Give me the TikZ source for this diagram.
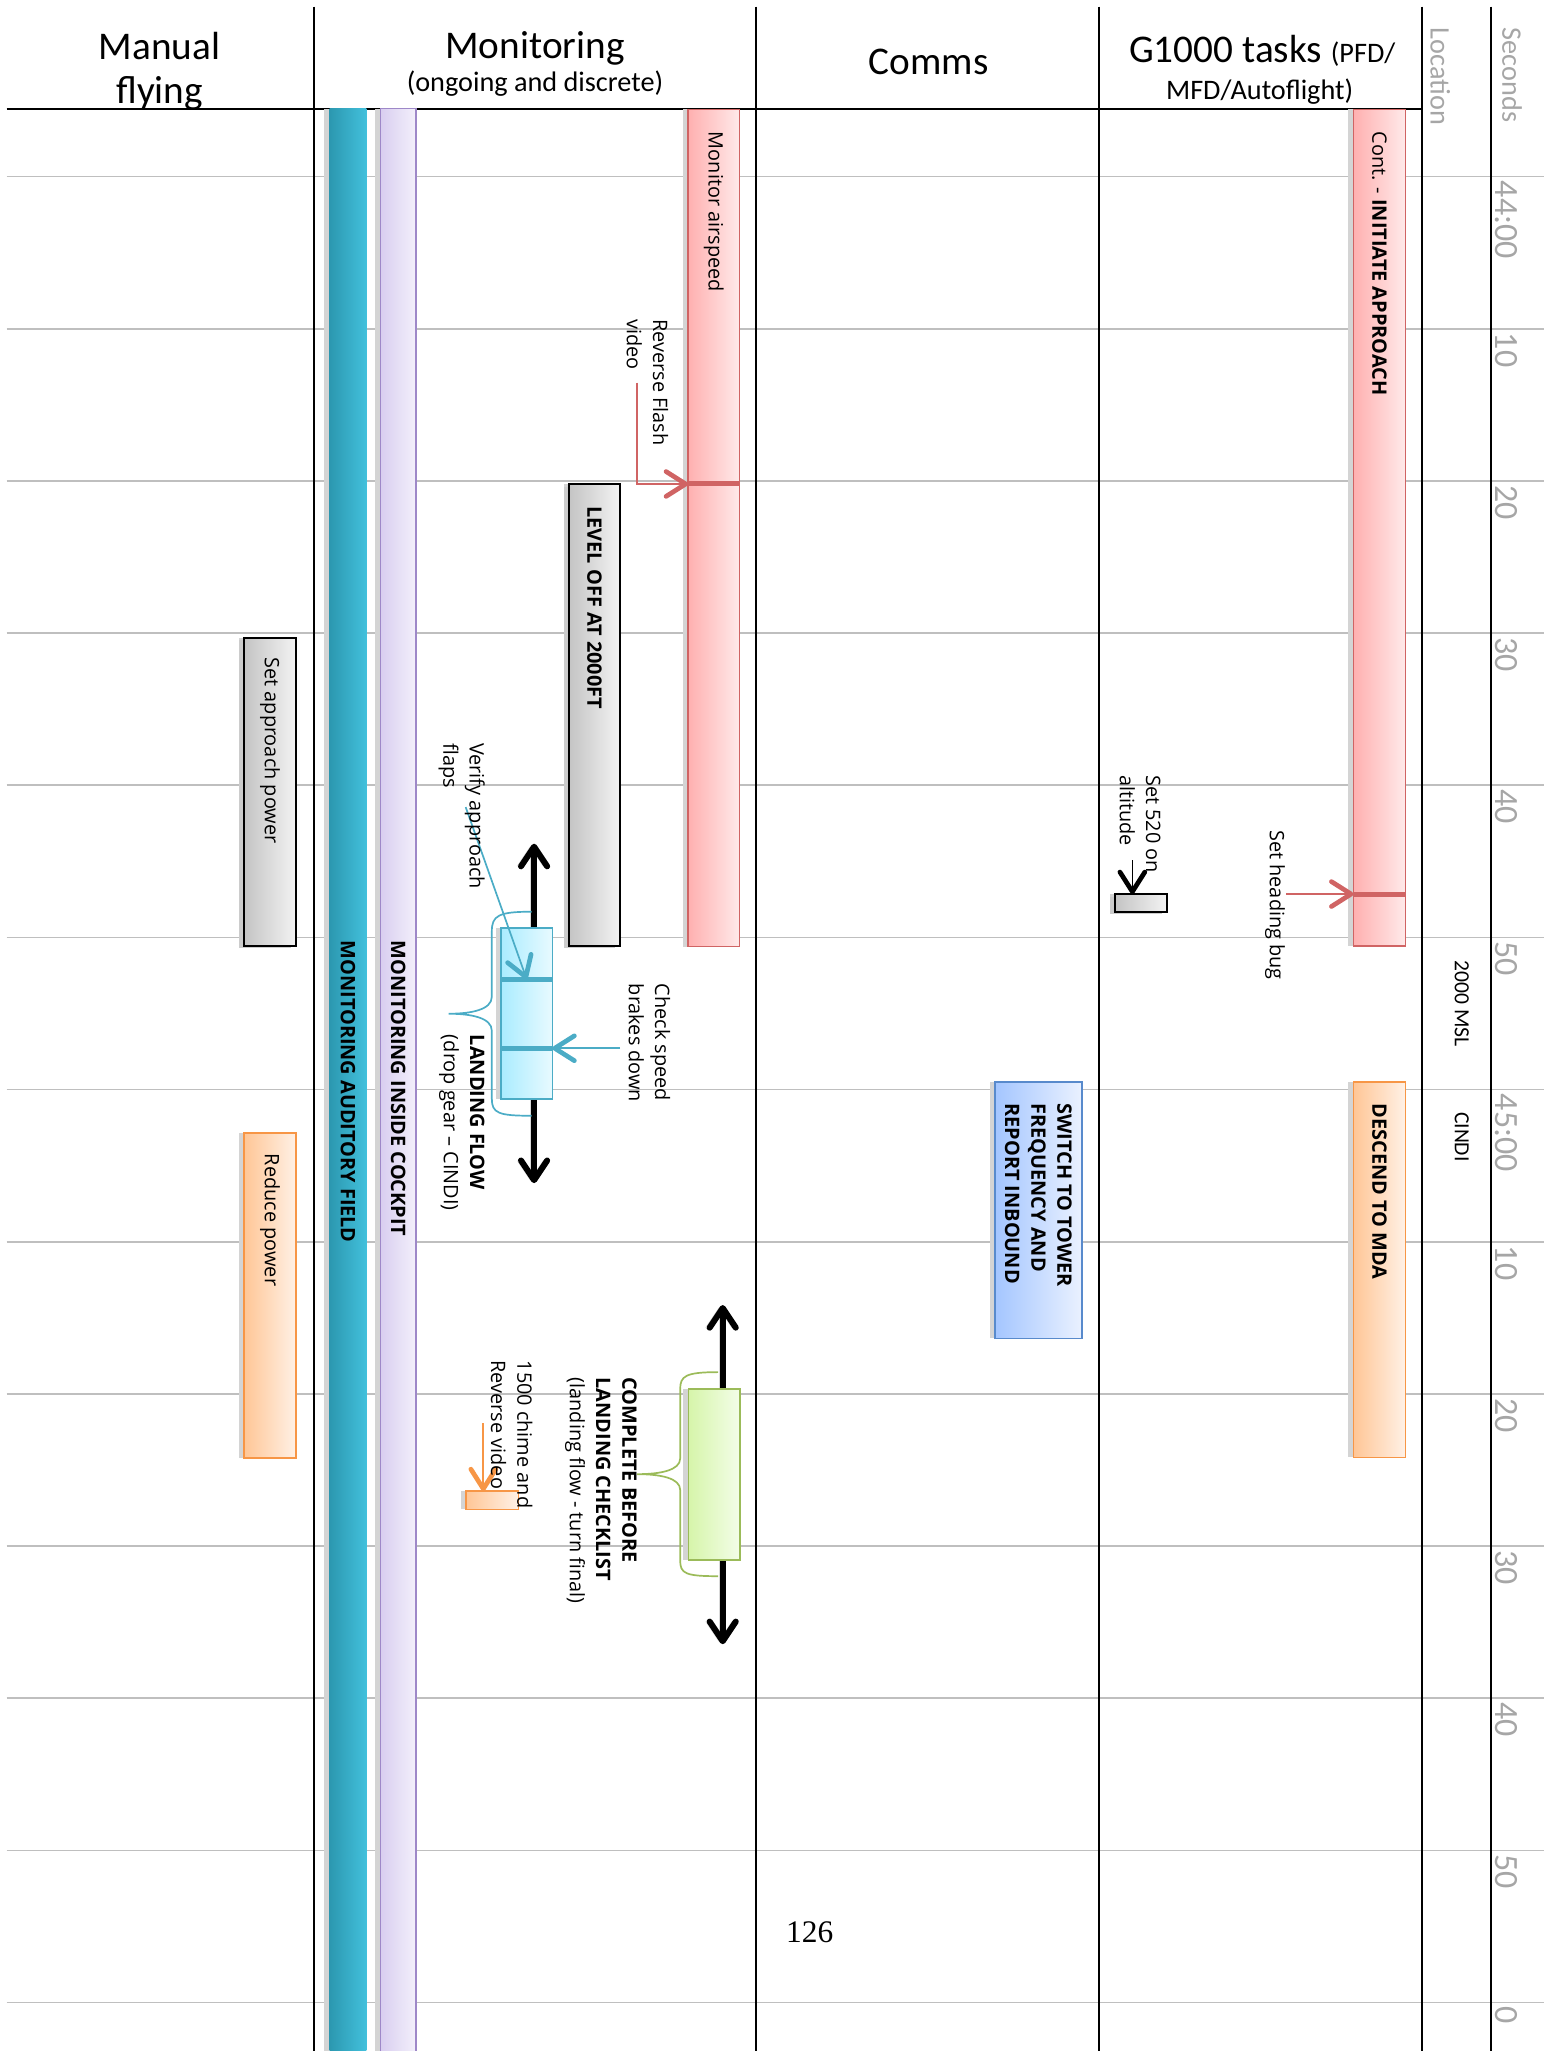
\documentclass[tikz,border=0pt]{standalone}
\usepackage{fontspec}
\setmainfont{Open Sans}
\newfontfamily\calfont{Carlito}
\newfontfamily\pagefont{Liberation Serif}
\usetikzlibrary{positioning}
\usetikzlibrary{shadows,arrows.meta}
\definecolor{gridgry}{RGB}{191,191,191}
\definecolor{secgry}{RGB}{166,166,166}
\definecolor{tealdk}{RGB}{44,152,176}
\definecolor{teallt}{RGB}{66,192,220}
\definecolor{lavdk}{RGB}{217,206,240}
\definecolor{lavlt}{RGB}{243,240,251}
\definecolor{lavbrd}{RGB}{158,136,200}
\definecolor{reddk}{RGB}{255,176,176}
\definecolor{redlt}{RGB}{255,234,234}
\definecolor{redbrd}{RGB}{208,100,100}
\definecolor{grydk}{RGB}{196,196,196}
\definecolor{grylt}{RGB}{243,243,243}
\definecolor{cyandk}{RGB}{170,236,255}
\definecolor{cyanlt}{RGB}{232,250,255}
\definecolor{cyanbrd}{RGB}{75,172,198}
\definecolor{grndk}{RGB}{214,245,170}
\definecolor{grnlt}{RGB}{243,253,232}
\definecolor{grnbrd}{RGB}{155,187,89}
\definecolor{orgdk}{RGB}{255,198,150}
\definecolor{orglt}{RGB}{255,241,230}
\definecolor{orgbrd}{RGB}{247,150,70}
\definecolor{bludk}{RGB}{164,198,255}
\definecolor{blult}{RGB}{234,241,255}
\definecolor{blubrd}{RGB}{88,138,204}

\tikzset{
  lane/.style={line width=1.6pt, black},
  gridln/.style={line width=1.3pt, gridgry},
  hdr/.style={inner sep=0pt, font=\calfont\fontsize{30}{34}\selectfont},
  subhdr/.style={inner sep=0pt, font=\calfont\fontsize{21.6}{24}\selectfont},
  sidehdr/.style={rotate=-90, anchor=west, inner sep=0pt, text=secgry, font=\calfont\fontsize{21.6}{24}\selectfont},
  sec/.style={rotate=-90, anchor=west, inner sep=0pt, text=secgry, font=\calfont\fontsize{26}{30}\selectfont},
  txt/.style={rotate=-90, anchor=west, inner sep=0pt, align=left, font=\fontsize{15.2}{20}\selectfont},
  locn/.style={txt, font=\calfont\fontsize{16.5}{20}\selectfont},
  box/.style={anchor=north west, inner sep=0pt, outer sep=0pt, line width=1.2pt,
    drop shadow={shadow xshift=-4pt, shadow yshift=0pt, opacity=1, fill=black!17}},
  graybox/.style={box, draw=black, line width=1.6pt, left color=grydk, right color=grylt,
    drop shadow={shadow xshift=-4pt, shadow yshift=-2pt, opacity=1, fill=black!20}},
  redbox/.style={box, draw=redbrd, left color=reddk, right color=redlt},
  orgbox/.style={box, draw=orgbrd, left color=orgdk, right color=orglt},
  cyanbox/.style={box, draw=cyanbrd, left color=cyandk, right color=cyanlt},
  grnbox/.style={box, draw=grnbrd, left color=grndk, right color=grnlt},
  blubox/.style={box, draw=blubrd, left color=bludk, right color=blult},
  tickln/.style={line width=3.8pt},
  bracln/.style={line width=1.3pt},
  ptr/.style={->, line width=1.3pt, >={Straight Barb[length=15pt, width=19pt, line width=3.6pt, round]}},
  dblarrow/.style={<->, line width=4.6pt, black,
    >={Straight Barb[length=15pt, width=20pt, line width=4.6pt, round]},
    preaction={draw=black!15, transform canvas={xshift=-3pt}}}
}

\begin{document}
\begin{tikzpicture}[x=1pt, y=-1pt]
  \useasboundingbox (0,0) rectangle (1189,1568);

  % time grid
  \foreach \lbl [count=\k from 0] in {44:00,10,20,30,40,50,45:00,10,20,30,40,50,0}{
    \draw[gridln] (5,{135+116.33*\k}) -- (1180,{135+116.33*\k});
    \node[sec] (s\k) at (1152,{138+116.33*\k}) {\lbl};
  }

  % lanes
  \foreach \x in {240,578,840,1087,1140}
    \draw[lane] (\x,5) -- (\x,1568);
  \draw[lane] (5,83) -- (1087,83);

  % headers
  \node[hdr, anchor=base] (hMan) at (122,45.5) {Manual};
  \node[hdr, anchor=base] (hFly) at (122,79.5) {flying};
  \node[hdr, anchor=base] (hMon) at (409,44.5) {Monitoring};
  \node[subhdr, anchor=base] (hMonSub) at (409,70) {(ongoing and discrete)};
  \node[hdr, anchor=base] (hCom) at (710,57) {Comms};
  \node[hdr, anchor=base] (hGar) at (965,48) {G1000 tasks {\fontsize{21.6}{24}\selectfont(PFD/}};
  \node[subhdr, anchor=base] (hGarSub) at (963,76) {MFD/Autoflight)};
  \node[sidehdr] (hLoc) at (1101,21) {Location};
  \node[sidehdr] (hSec) at (1156,21) {Seconds};

  % monitoring bars
  \node[box, left color=tealdk, right color=teallt, minimum width=28pt, minimum height=1486pt] (aud) at (252,83) {};
  \node[box, draw=lavbrd, left color=lavdk, right color=lavlt, minimum width=27pt, minimum height=1486pt] (ckp) at (291,83) {};
  \node[txt] (audT) at (266,719) {\bfseries MONITORING AUDITORY FIELD};
  \node[txt] (ckpT) at (304.5,719) {\bfseries MONITORING INSIDE COCKPIT};

  \node[redbox, minimum width=39.5pt, minimum height=640pt] (air) at (526,83.6) {};
  \node[txt] (airT) at ([yshift=-17pt]air.north) {Monitor airspeed};
  \coordinate (airTick) at (526,370);
  \draw[tickln, redbrd] (airTick) -- (airTick -| air.east);
  \coordinate (rfStart) at (487.2,292.6);
  \draw[ptr, redbrd] (rfStart) |- (airTick);
  \node[txt] (rfT) at (495,244) {Reverse Flash\\video};

  \node[graybox, minimum width=39pt, minimum height=353pt] (lvl) at (435,370) {};
  \node[txt] (lvlT) at ([yshift=-17pt]lvl.north) {\bfseries LEVEL OFF AT 2000FT};

  % landing flow
  \coordinate (lfTop) at (408.3,645);
  \coordinate (lfBot) at (408.3,904.5);
  \draw[dblarrow] (lfTop) -- (lfBot);
  \draw[bracln, cyanbrd] (406.5,697) .. controls (381,697) and (376,700) .. (376,712)
    -- (376,762) .. controls (376,772) and (360,775) .. (343,775)
    .. controls (360,775) and (376,778) .. (376,788) -- (376,840)
    .. controls (376,851) and (381,853) .. (406.5,853);
  \node[cyanbox, minimum width=39.3pt, minimum height=130.7pt] (lf) at (383,709.6) {};
  \coordinate (lfTickA) at (383,748.6);
  \coordinate (lfTickB) at (383,801.4);
  \draw[tickln, cyanbrd] (lfTickA) -- (lfTickA -| lf.east);
  \draw[tickln, cyanbrd] (lfTickB) -- (lfTickB -| lf.east);
  \coordinate (vfStart) at (356,617);
  \draw[ptr, cyanbrd] (vfStart) -- (lf |- lfTickA);
  \coordinate (csStart) at (474,801.4);
  \draw[ptr, cyanbrd] (csStart) -- (lf.east |- lfTickB);
  \node[txt] (vfT) at (353,568) {Verify approach\\flaps};
  \node[txt] (csT) at (496.5,752) {Check speed\\brakes down};
  \node[txt] (lfT) at (353,791) {\bfseries LANDING FLOW\\(drop gear -- CINDI)};

  % before landing checklist
  \coordinate (clTop) at (552.5,997.7);
  \coordinate (clBot) at (552.5,1257);
  \draw[dblarrow] (clTop) -- (clBot);
  \draw[bracln, grnbrd] (549,1049) .. controls (524,1049) and (520,1052) .. (520,1062)
    -- (520,1115) .. controls (520,1124) and (505,1127) .. (487,1127)
    .. controls (505,1127) and (520,1130) .. (520,1139) -- (520,1193)
    .. controls (520,1203) and (524,1205) .. (549,1205);
  \node[grnbox, minimum width=39.6pt, minimum height=130.7pt] (cl) at (526.2,1062) {};
  \node[txt] (clT) at (459.4,1053) {\bfseries COMPLETE BEFORE\\\bfseries LANDING CHECKLIST\\(landing flow - turn final)};

  \node[orgbox, minimum width=40pt, minimum height=14pt] (chm) at (356.3,1140) {};
  \coordinate (chStart) at (369.5,1088);
  \draw[ptr, orgbrd] (chStart) -- (chStart |- chm.north);
  \node[txt] (chT) at (391.2,1040) {1500 chime and\\Reverse video};

  % manual flying
  \node[graybox, minimum width=40pt, minimum height=235.5pt] (pwr) at (186.5,487.5) {};
  \node[txt] (pwrT) at ([yshift=-15pt]pwr.north) {Set approach power};
  \node[orgbox, minimum width=40pt, minimum height=248.5pt] (red) at (186.5,866) {};
  \node[txt] (redT) at ([yshift=-16pt]red.north) {Reduce power};

  % comms
  \node[blubox, minimum width=66.3pt, minimum height=196.2pt] (twr) at (760.7,827) {};
  \node[txt] (twrT) at ([yshift=-16.5pt]twr.north) {\bfseries SWITCH TO TOWER\\\bfseries FREQUENCY AND\\\bfseries REPORT INBOUND};

  % G1000 tasks
  \node[redbox, minimum width=39.8pt, minimum height=639.7pt] (app) at (1034.7,83.6) {};
  \node[txt] (appT) at ([yshift=-17pt]app.north) {Cont. - \textbf{INITIATE APPROACH}};
  \coordinate (appTick) at (1034.7,683.5);
  \draw[tickln, redbrd] (appTick) -- (appTick -| app.east);
  \coordinate (hdgStart) at (983.2,683.5);
  \draw[ptr, redbrd] (hdgStart) -- (appTick);
  \node[txt] (hdgT) at (974.8,634.6) {Set heading bug};

  \node[graybox, minimum width=39.5pt, minimum height=13.5pt] (alt) at (852.5,683.5) {};
  \coordinate (altStart) at (865.7,657.5);
  \draw[ptr, black] (altStart) -- (altStart |- alt.north);
  \node[txt] (altT) at (871.6,592.5) {Set 520 on\\altitude};

  \node[orgbox, minimum width=39.8pt, minimum height=287.2pt] (mda) at (1034.7,827) {};
  \node[txt] (mdaT) at ([yshift=-16.5pt]mda.north) {\bfseries DESCEND TO MDA};

  % location
  \node[locn] (loc1) at (1117.5,734) {2000 MSL};
  \node[locn] (loc2) at (1117.5,850) {CINDI};

  \node[anchor=base, inner sep=0pt, font=\pagefont\fontsize{24}{28}\selectfont] (pg) at (619,1485) {126};
\end{tikzpicture}
\end{document}
